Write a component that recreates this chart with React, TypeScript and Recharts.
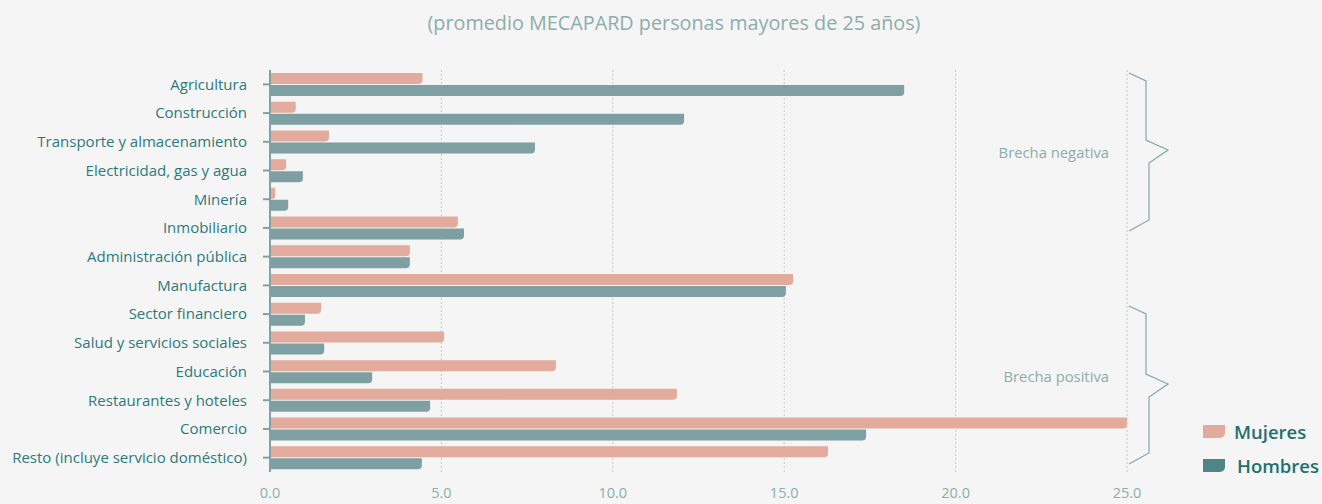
import React from 'react';
import { BarChart, Bar, XAxis, YAxis, CartesianGrid } from 'recharts';

// sectores, de arriba a abajo
const SECTORS = [
  'Agricultura',
  'Construcción',
  'Transporte y almacenamiento',
  'Electricidad, gas y agua',
  'Minería',
  'Inmobiliario',
  'Administración pública',
  'Manufactura',
  'Sector financiero',
  'Salud y servicios sociales',
  'Educación',
  'Restaurantes y hoteles',
  'Comercio',
  'Resto (incluye servicio doméstico)',
];

const MUJERES = [4.45, 0.75, 1.72, 0.47, 0.15, 5.48, 4.08, 15.26, 1.49, 5.08, 8.34, 11.87, 25.0, 16.28];
const HOMBRES = [18.5, 12.08, 7.73, 0.96, 0.53, 5.66, 4.08, 15.05, 1.02, 1.58, 2.98, 4.67, 17.39, 4.43];

const X_TICKS = [0, 5, 10, 15, 20, 25];

const COLOR_M = '#E2AB9D';
const COLOR_H = '#7FA0A3';
const COLOR_H_LEGEND = '#4E8585';
const TEAL = '#2C7A7A';
const FONT = '"Open Sans", sans-serif';

const data = SECTORS.map((name, i) => ({ name, Mujeres: MUJERES[i], Hombres: HOMBRES[i] }));

const LEGEND_ITEMS = [
  { label: 'Mujeres', color: COLOR_M, pad: 9 },
  { label: 'Hombres', color: COLOR_H_LEGEND, pad: 12 },
];

// llaves de "brecha" a la derecha
const Brace = ({ top, tip, bottom }: { top: number; tip: number; bottom: number }) => (
  <polyline
    points={`1129,${top} 1146,${top + 8} 1146,${tip - 10} 1168,${tip} 1149,${tip + 13} 1149,${bottom - 11} 1129,${bottom}`}
    fill="none"
    stroke="#7FA8A8"
    strokeWidth={1.2}
  />
);

export default function App() {
  return (
    <div
      style={{
        position: 'absolute',
        left: 0,
        top: 0,
        width: 1322,
        height: 504,
        background: '#F5F5F5',
        overflow: 'hidden',
        fontFamily: FONT,
      }}
    >
      <div
        style={{
          position: 'absolute',
          top: 9,
          left: 0,
          width: 1348,
          textAlign: 'center',
          color: '#8CADAA',
          fontSize: 19.8,
        }}
      >
        (promedio MECAPARD personas mayores de 25 años)
      </div>
      <BarChart
        width={1322}
        height={504}
        data={data}
        layout="vertical"
        margin={{ top: 70, right: 195, bottom: 0, left: 8 }}
        barSize={11}
        barGap={1}
      >
        <CartesianGrid vertical horizontal={false} stroke="#C8C8C8" strokeDasharray="2 2" />
        <XAxis
          type="number"
          domain={[0, 25]}
          ticks={X_TICKS}
          tickFormatter={(v: number) => v.toFixed(1)}
          axisLine={false}
          tickLine={false}
          tickSize={0}
          tickMargin={16}
          height={32}
          tick={{ fill: '#8AAFB0', fontSize: 14.5, fontFamily: FONT }}
        />
        <YAxis
          type="category"
          dataKey="name"
          width={262}
          axisLine={{ stroke: '#7FA3A3', strokeWidth: 2 }}
          tickLine={{ stroke: '#7FA3A3', strokeWidth: 2 }}
          tickSize={7}
          tickMargin={16}
          interval={0}
          tick={{ fill: TEAL, fontSize: 15, fontFamily: FONT }}
        />
        <Bar dataKey="Mujeres" fill={COLOR_M} radius={[0, 0, 4, 0]} isAnimationActive={false} />
        <Bar dataKey="Hombres" fill={COLOR_H} radius={[0, 0, 4, 0]} isAnimationActive={false} />
      </BarChart>
      <div style={{ position: 'absolute', left: 1203, top: 414 }}>
        {LEGEND_ITEMS.map((it) => (
          <div key={it.label} style={{ display: 'flex', alignItems: 'center', height: 34 }}>
            <div
              style={{
                width: 22,
                height: 13,
                background: it.color,
                borderBottomRightRadius: 5,
                marginRight: it.pad,
              }}
            />
            <span style={{ color: '#1F7070', fontSize: 18.5, fontWeight: 600 }}>{it.label}</span>
          </div>
        ))}
      </div>
      <svg
        width={1322}
        height={504}
        style={{ position: 'absolute', left: 0, top: 0, pointerEvents: 'none' }}
      >
        <Brace top={73} tip={150} bottom={231} />
        <Brace top={306} tip={384} bottom={464} />
        <text x={1109} y={158} textAnchor="end" fill="#8CADAA" fontSize={14.8} fontFamily={FONT}>
          Brecha negativa
        </text>
        <text x={1109} y={382} textAnchor="end" fill="#8CADAA" fontSize={14.8} fontFamily={FONT}>
          Brecha positiva
        </text>
      </svg>
    </div>
  );
}
